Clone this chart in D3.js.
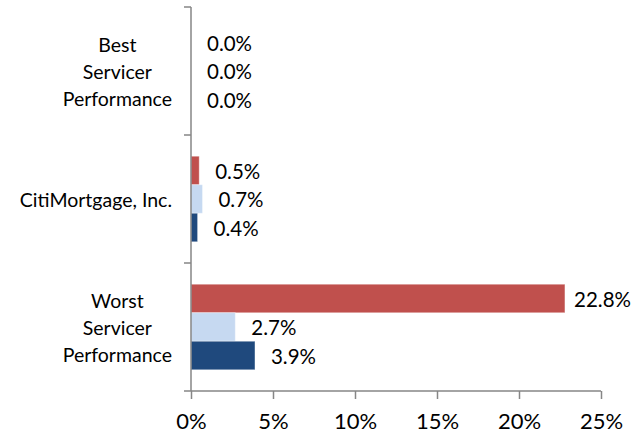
<!DOCTYPE html>
<html>
<head>
<meta charset="utf-8">
<script src="https://cdn.jsdelivr.net/npm/d3@7"></script>
<style>
  body { margin: 0; background: #fff; }
  text { font-family: Lato, "Open Sans", sans-serif; fill: #000; }
</style>
</head>
<body>
<script>
// categories (top to bottom)
const categories = [
  ["Best", "Servicer", "Performance"],
  ["CitiMortgage, Inc."],
  ["Worst", "Servicer", "Performance"]
];
const catKeys = ["best", "citi", "worst"];

// three series, drawn top to bottom inside each group
const seriesKeys = ["s1", "s2", "s3"];
const seriesColors = ["#C0504D", "#C6D9F1", "#1F497D"];
const s1 = [0.000, 0.005, 0.228];
const s2 = [0.000, 0.007, 0.027];
const s3 = [0.000, 0.004, 0.039];
const seriesValues = [s1, s2, s3];

const xTicks = [0, 0.05, 0.10, 0.15, 0.20, 0.25];

const width = 635, height = 435;
const plotL = 191, plotR = 601, plotT = 7, plotB = 391;

const svg = d3.select("body").append("svg")
  .attr("width", width)
  .attr("height", height);

const x = d3.scaleLinear().domain([0, 0.25]).range([plotL, plotR]);
const y = d3.scaleBand().domain(catKeys).range([plotT, plotB]).padding(0);
const yInner = d3.scaleBand().domain(seriesKeys)
  .range([0, y.bandwidth()]).paddingInner(0).paddingOuter(0.745);

// bars
const rows = [];
catKeys.forEach((c, i) => {
  seriesKeys.forEach((s, j) => {
    rows.push({ cat: c, key: s, value: seriesValues[j][i], color: seriesColors[j] });
  });
});

svg.append("g").selectAll("rect")
  .data(rows)
  .enter()
  .append("rect")
  .attr("x", x(0))
  .attr("y", d => y(d.cat) + yInner(d.key))
  .attr("width", d => x(d.value) - x(0))
  .attr("height", yInner.bandwidth())
  .attr("fill", d => d.color)
  .attr("stroke", d => d.value > 0 ? "rgba(255,255,255,0.35)" : "none")
  .attr("stroke-width", 1);

// value labels
const fmt = d3.format(".1%");
const labels = svg.append("g").selectAll("text")
  .data(rows)
  .enter()
  .append("text")
  .attr("y", d => y(d.cat) + yInner(d.key) + yInner.bandwidth() / 2)
  .attr("dy", "0.4em")
  .style("font-size", "20.5px")
  .text(d => fmt(d.value));
labels.each(function(d) {
  const w = this.getComputedTextLength();
  const px = Math.min(x(d.value) + 16, width - 4 - w);
  d3.select(this).attr("x", px);
});

// axes
const axisColor = "#868686";
const xAxis = svg.append("g")
  .attr("transform", `translate(0,${plotB})`)
  .call(d3.axisBottom(x).tickValues(xTicks).tickSize(8).tickPadding(14)
    .tickFormat(d3.format(".0%")));
xAxis.select(".domain").attr("stroke", axisColor).attr("stroke-width", 1.5)
  .attr("d", `M${plotL},0H${plotR}`);
xAxis.selectAll(".tick line").attr("stroke", axisColor).attr("stroke-width", 1.5);
xAxis.selectAll(".tick text")
  .style("font-family", "Lato, 'Open Sans', sans-serif")
  .style("font-size", "22px")
  .attr("fill", "#000");

// vertical axis with ticks at category boundaries
const yAxis = svg.append("g");
yAxis.append("line")
  .attr("x1", plotL).attr("x2", plotL)
  .attr("y1", plotT).attr("y2", plotB)
  .attr("stroke", axisColor).attr("stroke-width", 1.5);
const bounds = catKeys.map(c => y(c)).concat([plotB]);
yAxis.selectAll(".btick")
  .data(bounds)
  .enter()
  .append("line")
  .attr("x1", plotL - 7).attr("x2", plotL)
  .attr("y1", d => d).attr("y2", d => d)
  .attr("stroke", axisColor).attr("stroke-width", 1.5);

// category labels: multi-line, centred lines, block right-aligned
const lineH = 27;
catKeys.forEach((c, i) => {
  const lines = categories[i];
  const cy = y(c) + y.bandwidth() / 2;
  const g = svg.append("g");
  const t = g.append("text")
    .attr("text-anchor", "middle")
    .style("font-size", "19.5px");
  lines.forEach((ln, k) => {
    t.append("tspan")
      .attr("x", 0)
      .attr("y", cy + (k - (lines.length - 1) / 2) * lineH)
      .attr("dy", "0.4em")
      .text(ln);
  });
  const w = t.node().getBBox().width;
  g.attr("transform", `translate(${172 - w / 2},0)`);
});
</script>
</body>
</html>
